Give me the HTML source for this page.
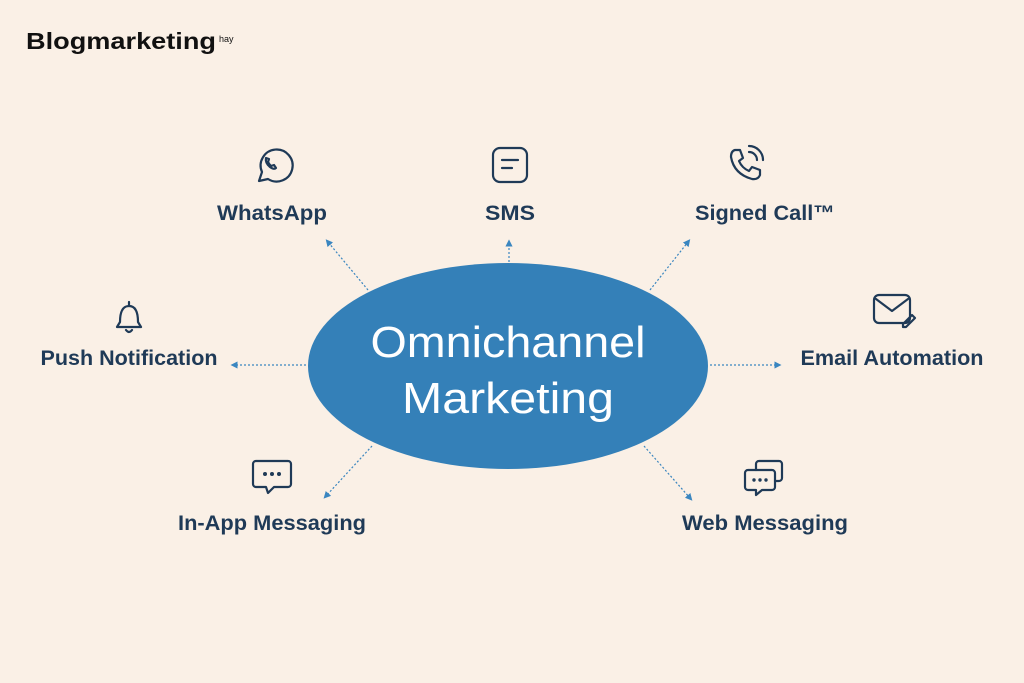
<!DOCTYPE html>
<html><head><meta charset="utf-8"><style>
html,body{margin:0;padding:0;width:1024px;height:683px;overflow:hidden;background:#faf0e6;}
svg{display:block}
text{font-family:"Liberation Sans",sans-serif;}
</style></head><body>
<svg width="1024" height="683" viewBox="0 0 1024 683">
<defs>
<marker id="a" markerWidth="6" markerHeight="6" refX="3" refY="3" orient="auto"><path d="M0,0 L6,3 L0,6 z" fill="#3a86c0"/></marker>
</defs>
<rect width="1024" height="683" fill="#faf0e6"/>
<text x="26" y="49" font-size="23" font-weight="bold" fill="#111" textLength="190" lengthAdjust="spacingAndGlyphs">Blogmarketing</text>
<text x="219" y="42" font-size="9" fill="#111">hay</text>
<ellipse cx="508" cy="366" rx="200" ry="103" fill="#3480b8"/>
<text x="508" y="357" font-size="44" fill="#fff" text-anchor="middle" textLength="275" lengthAdjust="spacingAndGlyphs">Omnichannel</text>
<text x="508" y="413" font-size="44" fill="#fff" text-anchor="middle" textLength="212" lengthAdjust="spacingAndGlyphs">Marketing</text>
<g stroke="#3a86c0" stroke-width="1.2" stroke-dasharray="2,2" fill="none" marker-end="url(#a)">
<line x1="368" y1="290" x2="328" y2="242"/>
<line x1="509" y1="262" x2="509" y2="243"/>
<line x1="650" y1="290" x2="688" y2="242"/>
<line x1="306" y1="365" x2="234" y2="365"/>
<line x1="710" y1="365" x2="778" y2="365"/>
<line x1="372" y1="446" x2="326" y2="496"/>
<line x1="644" y1="446" x2="690" y2="498"/>
</g>
<g fill="#1f3a57" font-size="21" font-weight="bold" text-anchor="middle" lengthAdjust="spacingAndGlyphs">
<text x="272" y="220" textLength="110" lengthAdjust="spacingAndGlyphs">WhatsApp</text>
<text x="510" y="220" textLength="50" lengthAdjust="spacingAndGlyphs">SMS</text>
<text x="765" y="220" textLength="140" lengthAdjust="spacingAndGlyphs">Signed Call™</text>
<text x="129" y="365" textLength="177" lengthAdjust="spacingAndGlyphs">Push Notification</text>
<text x="892" y="365" textLength="183" lengthAdjust="spacingAndGlyphs">Email Automation</text>
<text x="272" y="530" textLength="188" lengthAdjust="spacingAndGlyphs">In-App Messaging</text>
<text x="765" y="530" textLength="166" lengthAdjust="spacingAndGlyphs">Web Messaging</text>
</g>
<g stroke="#1f3a57" stroke-width="2.2" fill="none" stroke-linecap="round" stroke-linejoin="round">
<path d="M259,181 L262,172 A16,16 0 1 1 268,179 Z"/>
<path d="M266,158 q-1,5 4,9 q4,3 6,1 l-2,-3 -3,1 q-2,-2 -3,-4 l1,-3 z"/>
<rect x="493" y="148" width="34" height="34" rx="7"/>
<line x1="502" y1="160" x2="518" y2="160"/><line x1="502" y1="168" x2="512" y2="168"/>
<path d="M735,150 l5,0 3,8 -4,3 q3,7 10,10 l3,-4 8,3 0,5 q-2,5 -8,4 q-18,-5 -21,-22 q0,-6 4,-7z"/>
<path d="M749,152 a8,8 0 0 1 8,8 M749,146 a14,14 0 0 1 14,14"/>
<path d="M120,322 q0,-16 9,-16 q9,0 9,16 l3,5 h-24 z M126,330 q3,4 6,0 M129,302 v3"/>
<rect x="874" y="295" width="36" height="28" rx="5"/>
<path d="M876,299 l16,12 16,-12"/>
<path d="M903,324 l9,-9 3,3 -9,9 h-3 z"/>
<path d="M256,461 h32 a3,3 0 0 1 3,3 v20 a3,3 0 0 1 -3,3 h-14 l-6,6 -2,-6 h-10 a3,3 0 0 1 -3,-3 v-20 a3,3 0 0 1 3,-3z"/>
<path d="M748,470 h24 a3,3 0 0 1 3,3 v14 a3,3 0 0 1 -3,3 h-10 l-6,5 0,-5 h-8 a3,3 0 0 1 -3,-3 v-14 a3,3 0 0 1 3,-3z"/>
<path d="M756,470 v-6 a3,3 0 0 1 3,-3 h20 a3,3 0 0 1 3,3 v14 a3,3 0 0 1 -3,3 h-4"/>
</g>
<g fill="#1f3a57"><circle cx="265" cy="474" r="2"/><circle cx="272" cy="474" r="2"/><circle cx="279" cy="474" r="2"/>
<circle cx="754" cy="480" r="1.7"/><circle cx="760" cy="480" r="1.7"/><circle cx="766" cy="480" r="1.7"/></g>
</svg>
</body></html>
